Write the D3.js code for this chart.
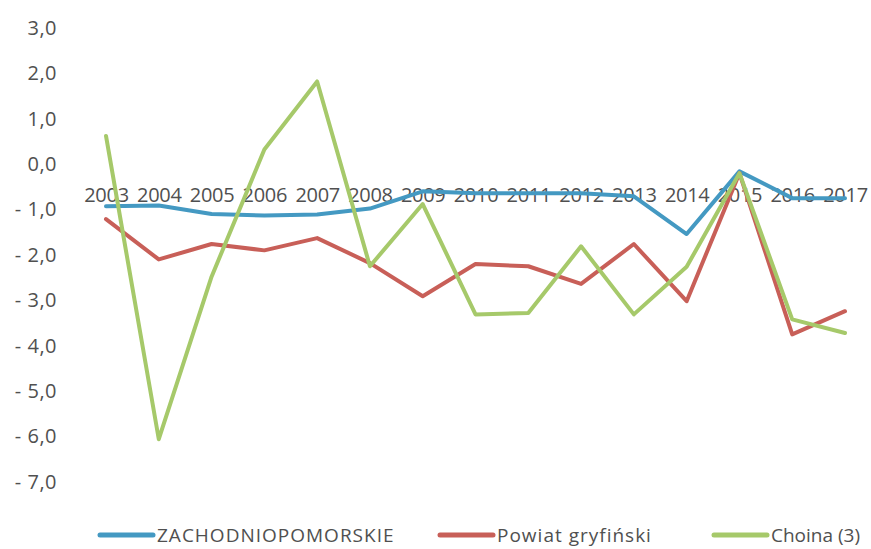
<!DOCTYPE html>
<html>
<head>
<meta charset="utf-8">
<script src="https://cdn.jsdelivr.net/npm/d3@7"></script>
<style>
  body { margin: 0; background: #fff; }
  text { font-family: "Open Sans", sans-serif; fill: #505050; }
</style>
</head>
<body>
<div id="chart"></div>
<script>
const width = 871, height = 549
const years = ["2003", "2004", "2005", "2006", "2007", "2008", "2009", "2010",
    "2011", "2012", "2013", "2014", "2015", "2016", "2017"]
const zachodniopomorskie = [-0.95, -0.93, -1.12, -1.15, -1.13, -1.0, -0.62, -0.66,
    -0.66, -0.66, -0.73, -1.56, -0.18, -0.77, -0.77]
const powiatGryfinski = [-1.23, -2.12, -1.78, -1.92, -1.65, -2.2, -2.93, -2.22,
    -2.27, -2.66, -1.78, -3.04, -0.22, -3.77, -3.26]
const choina = [0.6, -6.08, -2.5, 0.3, 1.8, -2.27, -0.9, -3.33,
    -3.3, -1.83, -3.33, -2.28, -0.22, -3.44, -3.74]
const yTicks = [3, 2, 1, 0, -1, -2, -3, -4, -5, -6, -7]
const seriesNames = ["ZACHODNIOPOMORSKIE", "Powiat gryfiński", "Choina (3)"]
const colors = ["#4499c2", "#c85f58", "#a6c96a"]

const series = [zachodniopomorskie, powiatGryfinski, choina]

const svg = d3.select("#chart").append("svg")
    .attr("width", width)
    .attr("height", height)

const x = d3.scalePoint().domain(years).range([106, 845])
const y = d3.scaleLinear().domain([-7, 3]).range([481, 27])

// y axis labels, Excel style "- 1,0"
const fmt = v => (v < 0 ? "- " : "") + Math.abs(v).toFixed(1).replace(".", ",")
const yAxis = d3.axisLeft(y).tickValues(yTicks).tickFormat(fmt).tickSize(0).tickPadding(0)
svg.append("g")
    .attr("transform", "translate(57,0)")
    .call(yAxis)
    .call(g => g.select(".domain").remove())
    .selectAll("text")
    .style("font-size", "20px")
    .style("letter-spacing", "0.5px")
    .attr("dy", "0.36em")

// category labels sit below the zero line
const xAxis = d3.axisBottom(x).tickSize(0).tickPadding(0)
svg.append("g")
    .attr("transform", "translate(0," + (y(0) + 27) + ")")
    .call(xAxis)
    .call(g => g.select(".domain").remove())
    .selectAll("text")
    .style("font-size", "20px")
    .style("letter-spacing", "-0.3px")
    .attr("dy", "0.6em")

const line = d3.line()
    .x((d, i) => x(years[i]))
    .y(d => y(d))

series.forEach((s, k) => {
    svg.append("path")
        .datum(s)
        .attr("d", line)
        .attr("fill", "none")
        .attr("stroke", colors[k])
        .attr("stroke-width", 4)
        .attr("stroke-linejoin", "round")
        .attr("stroke-linecap", "round")
})

// legend
const legendX = [100, 440, 714]
const legend = svg.append("g").attr("transform", "translate(0,535)")
seriesNames.forEach((name, k) => {
    legend.append("line")
        .attr("x1", legendX[k]).attr("x2", legendX[k] + 53)
        .attr("y1", 0).attr("y2", 0)
        .attr("stroke", colors[k])
        .attr("stroke-width", 5)
        .attr("stroke-linecap", "round")
    legend.append("text")
        .attr("x", legendX[k] + 57)
        .attr("y", 0)
        .attr("dy", "0.36em")
        .style("font-size", "19px")
        .style("letter-spacing", k < 2 ? "1px" : "0px")
        .text(name)
})
</script>
</body>
</html>
